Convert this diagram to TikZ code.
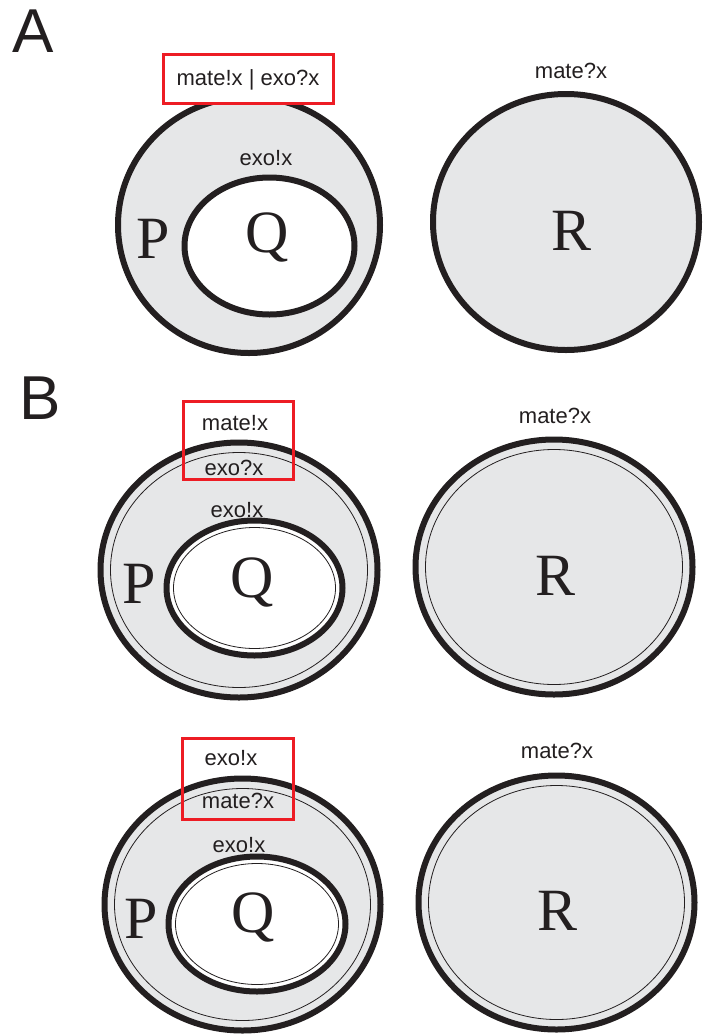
\documentclass[tikz,border=0pt]{standalone}
\usepackage{fontspec}
\setmainfont{Liberation Serif}
\setsansfont{Liberation Sans}
\usetikzlibrary{shapes.geometric}
\definecolor{ink}{RGB}{35,31,32}
\definecolor{cellgray}{RGB}{230,231,232}
\definecolor{boxred}{RGB}{237,28,36}

\begin{document}
\begin{tikzpicture}[x=1pt, y=-1pt,
    membrane/.style={ellipse, draw=ink, line width=6pt, fill=cellgray, inner sep=0pt},
    vesicle/.style={ellipse, draw=ink, line width=6pt, fill=white, inner sep=0pt},
    leaflet/.style={ellipse, draw=ink, line width=0.8pt, inner sep=0pt},
    hilite/.style={rectangle, draw=boxred, line width=3pt, inner sep=0pt},
    signal/.style={anchor=base, text=ink, font=\sffamily\fontsize{22}{26}\selectfont},
    cellname/.style={anchor=base, text=ink, font=\rmfamily\fontsize{60}{70}\selectfont},
    panel/.style={anchor=base, text=ink, font=\sffamily\fontsize{62}{70}\selectfont}
]
\useasboundingbox (0,0) rectangle (702,1034);

% --- A ---
\node[panel] (labA) at (33,52) {A};
\node[membrane, minimum width=262pt, minimum height=256pt] (pA) at (249,225) {};
\node[vesicle, minimum width=170pt, minimum height=137pt] (qA) at (269.5,246) {};
\node[membrane, minimum width=266pt, minimum height=256pt] (rA) at (566,222) {};
\node[hilite, fill=white, minimum width=170pt, minimum height=49pt] (boxA) at (248.5,79) {};
\node[signal] (sigA) at (248,85) {mate!x | exo?x};
\node[signal] (exoA) at (266,165) {exo!x};
\node[signal] (mateA) at (571,78) {mate?x};
\node[cellname] (nameP) at (153,258) {P};
\node[cellname] (nameQ) at (267,252) {Q};
\node[cellname] (nameR) at (572,250) {R};

% --- B, upper ---
\node[panel] (labB) at (40,419) {B};
\node[membrane, minimum width=277pt, minimum height=255pt] (pB) at (239,570) {};
\node[leaflet, minimum width=257pt, minimum height=235pt] (pBin) at (pB) {};
\node[vesicle, minimum width=176pt, minimum height=135pt] (qB) at (254.5,588) {};
\node[leaflet, minimum width=162pt, minimum height=121pt] (qBin) at (qB) {};
\node[membrane, minimum width=277pt, minimum height=255pt] (rB) at (554,567) {};
\node[leaflet, minimum width=257pt, minimum height=235pt] (rBin) at (rB) {};
\node[hilite, minimum width=110pt, minimum height=78pt] (boxB) at (238.5,440.5) {};
\node[signal] (sigB) at (235,430) {mate!x};
\node[signal] (sigBin) at (234,475) {exo?x};
\node[signal] (exoB) at (237,517) {exo!x};
\node[signal] (mateB) at (555,423) {mate?x};
\node[cellname] (namePB) at (139,603) {P};
\node[cellname] (nameQB) at (252,597) {Q};
\node[cellname] (nameRB) at (556,595) {R};

% --- B, lower ---
\node[membrane, minimum width=276pt, minimum height=252pt] (pC) at (242.5,904.5) {};
\node[leaflet, minimum width=256pt, minimum height=232pt] (pCin) at (pC) {};
\node[vesicle, minimum width=177pt, minimum height=135pt] (qC) at (257,924) {};
\node[leaflet, minimum width=163pt, minimum height=121pt] (qCin) at (qC) {};
\node[membrane, minimum width=276pt, minimum height=254pt] (rC) at (556.5,902.5) {};
\node[leaflet, minimum width=256pt, minimum height=234pt] (rCin) at (rC) {};
\node[hilite, minimum width=111pt, minimum height=81pt] (boxC) at (238,779) {};
\node[signal] (sigC) at (231,765) {exo!x};
\node[signal] (sigCin) at (238,808) {mate?x};
\node[signal] (exoC) at (239,852) {exo!x};
\node[signal] (mateC) at (557,758) {mate?x};
\node[cellname] (namePC) at (141,938) {P};
\node[cellname] (nameQC) at (253,932) {Q};
\node[cellname] (nameRC) at (558,930) {R};
\end{tikzpicture}
\end{document}
